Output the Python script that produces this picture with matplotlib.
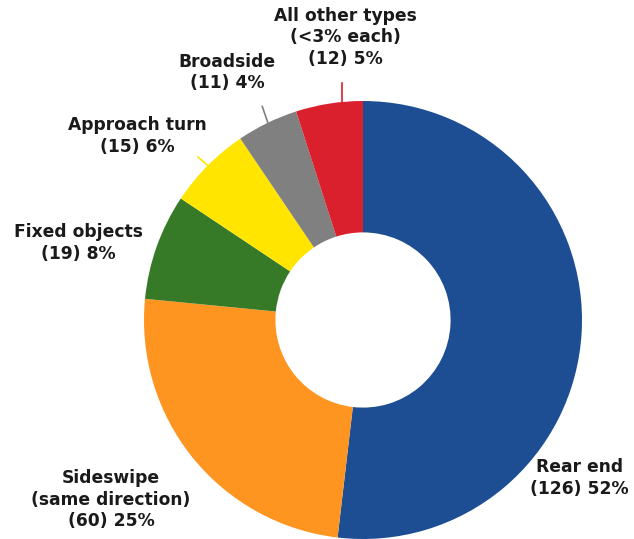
import matplotlib
matplotlib.use("Agg")
import matplotlib.pyplot as plt

categories = ["Rear end", "Sideswipe\n(same direction)", "Fixed objects",
              "Approach turn", "Broadside", "All other types\n(<3% each)"]
counts = [126, 60, 19, 15, 11, 12]
percents = [52, 25, 8, 6, 4, 5]
colors = ["#1D4E94", "#FF9521", "#367A27", "#FFE500", "#808080", "#DA1F2D"]

# label positions (data coords, pie radius = 1)
label_pos = [(0.99, -0.72), (-1.15, -0.82), (-1.30, 0.35),
             (-1.03, 0.84), (-0.62, 1.13), (-0.08, 1.29)]
leaders = {3: ((-0.753, 0.744), (-0.712, 0.708)),
           4: ((-0.46, 0.975), (-0.434, 0.90)),
           5: ((-0.096, 1.08), (-0.096, 0.995))}

W, H = 634, 539
fig = plt.figure(figsize=(W / 100, H / 100), dpi=100)
cx, cy, r = 363, 320, 219
ax = fig.add_axes([(cx - r) / W, (H - cy - r) / H, 2 * r / W, 2 * r / H])
ax.pie(counts, colors=colors, startangle=90, counterclock=False,
       radius=1.0, wedgeprops=dict(width=0.60, linewidth=0))
ax.set_xlim(-1, 1)
ax.set_ylim(-1, 1)
ax.set_aspect("equal")
ax.axis("off")

for i, (cat, n, p) in enumerate(zip(categories, counts, percents)):
    x, y = label_pos[i]
    ax.text(x, y, f"{cat}\n({n}) {p}%", ha="center", va="center",
            fontsize=12.3, fontweight="bold", color="#1a1a1a",
            family="DejaVu Sans", linespacing=1.27, clip_on=False)

for i, (p0, p1) in leaders.items():
    ax.plot([p0[0], p1[0]], [p0[1], p1[1]], color=colors[i], lw=1.2,
            clip_on=False)

fig.savefig("out.png", dpi=100)
